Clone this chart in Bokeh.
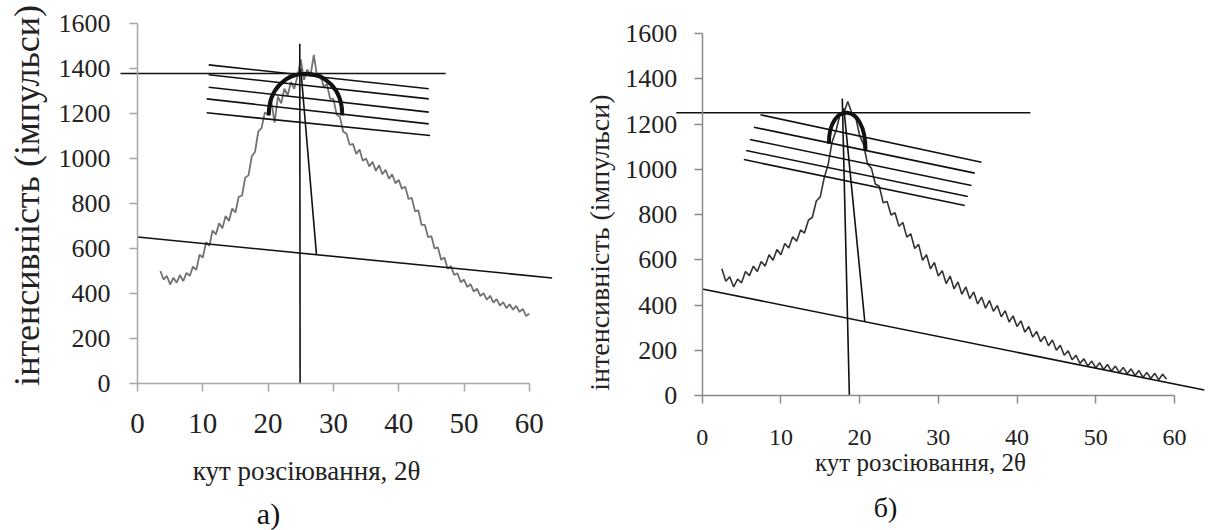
import math
from bokeh.plotting import figure
from bokeh.layouts import row
from bokeh.models import LinearAxis, FixedTicker, Label, Range1d
from bokeh.embed import file_html
from bokeh.resources import INLINE

# ---------------- panel а) ----------------
angle_a = [3.5, 4.0, 4.5, 5.0, 5.5, 6.0, 6.5, 7.0, 7.5, 8.0,
           8.5, 9.0, 9.5, 10.0, 10.5, 11.0, 11.5, 12.0, 12.5, 13.0,
           13.5, 14.0, 14.5, 15.0, 15.5, 16.0, 16.5, 17.0, 17.5, 18.0,
           18.5, 19.0, 19.5, 20.0, 20.5, 21.0, 21.5, 22.0, 22.5, 23.0,
           23.5, 24.0, 24.5, 25.0, 25.5, 26.0, 26.5, 27.0, 27.5, 28.0,
           28.5, 29.0, 29.5, 30.0, 30.5, 31.0, 31.5, 32.0, 32.5, 33.0,
           33.5, 34.0, 34.5, 35.0, 35.5, 36.0, 36.5, 37.0, 37.5, 38.0,
           38.5, 39.0, 39.5, 40.0, 40.5, 41.0, 41.5, 42.0, 42.5, 43.0,
           43.5, 44.0, 44.5, 45.0, 45.5, 46.0, 46.5, 47.0, 47.5, 48.0,
           48.5, 49.0, 49.5, 50.0, 50.5, 51.0, 51.5, 52.0, 52.5, 53.0,
           53.5, 54.0, 54.5, 55.0, 55.5, 56.0, 56.5, 57.0, 57.5, 58.0,
           58.5, 59.0, 59.5, 60.0]
intensity_a = [500, 462, 478, 440, 470, 448, 482, 455, 492, 478,
               520, 505, 572, 560, 628, 612, 680, 662, 712, 690,
               745, 722, 778, 760, 830, 835, 915, 925, 1010, 1030,
               1120, 1135, 1205, 1195, 1250, 1160, 1275, 1245, 1310, 1280,
               1340, 1310, 1365, 1440, 1350, 1395, 1370, 1460, 1365, 1375,
               1320, 1330, 1265, 1265, 1195, 1185, 1120, 1110, 1060, 1065,
               1020, 1040, 990, 1000, 965, 985, 945, 970, 930, 950,
               910, 930, 890, 905, 865, 875, 820, 825, 765, 770,
               705, 705, 650, 655, 600, 605, 550, 560, 510, 522,
               482, 490, 450, 462, 428, 442, 408, 422, 388, 402,
               372, 390, 360, 375, 346, 362, 335, 352, 328, 345,
               318, 332, 300, 310]

# construction lines of panel а): (x0, y0) -> (x1, y1)
lines_a_x0 = [-2.6, 0.0, 24.85, 25.0, 10.9, 10.9, 10.9, 10.6, 10.6]
lines_a_y0 = [1378, 651, 1510, 1400, 1416, 1372, 1317, 1265, 1203]
lines_a_x1 = [47.2, 63.5, 24.9, 27.4, 44.6, 44.6, 44.6, 44.6, 44.8]
lines_a_y1 = [1378, 469, 0, 575, 1310, 1265, 1206, 1154, 1102]
# thick cap over the peak (start, end, two control points)
cap_a = {"x0": 20.1, "y0": 1191, "x1": 31.35, "y1": 1191,
         "cx0": 20.0, "cy0": 1438, "cx1": 31.45, "cy1": 1438}

# ---------------- panel б) ----------------
angle_b = [2.5, 3.0, 3.5, 4.0, 4.5, 5.0, 5.5, 6.0, 6.5, 7.0,
           7.5, 8.0, 8.5, 9.0, 9.5, 10.0, 10.5, 11.0, 11.5, 12.0,
           12.5, 13.0, 13.5, 14.0, 14.5, 15.0, 15.5, 16.0, 16.5, 17.0,
           17.5, 18.0, 18.5, 19.0, 19.5, 20.0, 20.5, 21.0, 21.5, 22.0,
           22.5, 23.0, 23.5, 24.0, 24.5, 25.0, 25.5, 26.0, 26.5, 27.0,
           27.5, 28.0, 28.5, 29.0, 29.5, 30.0, 30.5, 31.0, 31.5, 32.0,
           32.5, 33.0, 33.5, 34.0, 34.5, 35.0, 35.5, 36.0, 36.5, 37.0,
           37.5, 38.0, 38.5, 39.0, 39.5, 40.0, 40.5, 41.0, 41.5, 42.0,
           42.5, 43.0, 43.5, 44.0, 44.5, 45.0, 45.5, 46.0, 46.5, 47.0,
           47.5, 48.0, 48.5, 49.0, 49.5, 50.0, 50.5, 51.0, 51.5, 52.0,
           52.5, 53.0, 53.5, 54.0, 54.5, 55.0, 55.5, 56.0, 56.5, 57.0,
           57.5, 58.0, 58.5, 59.0]
intensity_b = [560, 505, 525, 480, 515, 498, 548, 530, 572, 548,
               592, 572, 622, 598, 645, 622, 672, 652, 702, 682,
               732, 718, 775, 788, 860, 878, 962, 1020, 1120, 1170,
               1240, 1250, 1300, 1250, 1230, 1150, 1110, 1025, 1005, 935,
               925, 852, 858, 798, 808, 748, 765, 700, 715, 650,
               668, 598, 622, 560, 588, 528, 552, 495, 528, 472,
               502, 448, 480, 428, 458, 405, 435, 386, 420, 372,
               398, 348, 375, 325, 352, 305, 330, 280, 305, 258,
               283, 238, 262, 220, 245, 200, 222, 178, 198, 158,
               178, 142, 162, 130, 152, 122, 145, 115, 137, 108,
               130, 102, 124, 96, 118, 88, 110, 80, 102, 75,
               98, 70, 94, 72]

lines_b_x0 = [-3.3, 0.0, 17.8, 18.0, 7.40, 6.56, 6.05, 5.59, 5.29]
lines_b_y0 = [1250, 471, 1313, 1270, 1241, 1186, 1132, 1083, 1043]
lines_b_x1 = [41.7, 63.8, 18.7, 20.66, 35.49, 34.64, 34.22, 33.75, 33.37]
lines_b_y1 = [1250, 24, 0, 327, 1031, 983, 928, 880, 840]
cap_b = {"x0": 16.1, "y0": 1113, "x1": 20.75, "y1": 1085,
         "cx0": 16.05, "cy0": 1300, "cx1": 20.8, "cy1": 1300}

x_ticks = [0, 10, 20, 30, 40, 50, 60]
y_ticks = [0, 200, 400, 600, 800, 1000, 1200, 1400, 1600]
y_title = "інтенсивність (імпульси)"
x_title = "кут розсіювання, 2θ"
FONT = "'Liberation Serif', 'Times New Roman', serif"


def make_panel(xr, yr, size, axis_color, xt_size, yt_size,
               yt_standoff, xt_standoff):
    # the frame fills the whole figure so that no text is clipped;
    # the axes sit at x = 0 and y = 0 inside it
    p = figure(x_range=Range1d(*xr), y_range=Range1d(*yr),
               frame_width=size[0], frame_height=size[1],
               min_border=0, min_border_left=0, min_border_right=0,
               min_border_top=0, min_border_bottom=0,
               x_axis_location=None, y_axis_location=None,
               toolbar_location=None, output_backend="svg",
               outline_line_color=None, background_fill_color="white",
               border_fill_color="white")
    p.grid.visible = False
    xa = LinearAxis(fixed_location=0, bounds=(0, 60),
                    ticker=FixedTicker(ticks=x_ticks, minor_ticks=[]))
    ya = LinearAxis(fixed_location=0, bounds=(0, 1600),
                    ticker=FixedTicker(ticks=y_ticks, minor_ticks=[]))
    for ax, fs, so in ((xa, xt_size, xt_standoff), (ya, yt_size, yt_standoff)):
        ax.axis_line_color = axis_color
        ax.axis_line_width = 1.5
        ax.major_tick_line_color = axis_color
        ax.major_tick_line_width = 1.5
        ax.major_tick_in = 0
        ax.major_tick_out = 8
        ax.minor_tick_line_color = None
        ax.major_label_text_font = FONT
        ax.major_label_text_font_size = f"{fs}px"
        ax.major_label_text_color = "#222222"
        ax.major_label_standoff = so
    p.add_layout(xa, "below")
    p.add_layout(ya, "left")
    return p


def add_text(p, x, y, text, size, angle=0.0, color="#222222"):
    p.add_layout(Label(x=x, y=y, text=text, angle=angle, text_font=FONT,
                       text_font_size=f"{size}px", text_align="center",
                       text_baseline="middle", text_color=color))


# panel а): 0 -> px 137, 6.53 px per degree; 0 -> px 383, 0.225 px per count
pa = make_panel(xr=(-20.98, 67.84), yr=(-653.3, 1702.2), size=(580, 530),
                axis_color="#a8a8a8", xt_size=29, yt_size=26,
                yt_standoff=19, xt_standoff=22)
pa.line(angle_a, intensity_a, line_color="#727272", line_width=1.8)
pa.segment(lines_a_x0, lines_a_y0, lines_a_x1, lines_a_y1,
           line_color="#111111", line_width=1.6)
pa.bezier(**cap_a, line_color="#111111", line_width=4)
add_text(pa, -16.85, 836, y_title, 36, angle=math.pi / 2)
add_text(pa, 25.9, -387, x_title, 27)
add_text(pa, 20.06, -578, "а)", 30, color="#111111")

# panel б): 0 -> page px 701.7, 7.87 px per degree; 0 -> px 395, 0.2262 px per count
pb = make_panel(xr=(-15.46, 64.33), yr=(-596.8, 1746.2), size=(628, 530),
                axis_color="#8a8a8a", xt_size=24, yt_size=26,
                yt_standoff=17, xt_standoff=26)
pb.line(angle_b, intensity_b, line_color="#333333", line_width=1.6)
pb.segment(lines_b_x0, lines_b_y0, lines_b_x1, lines_b_y1,
           line_color="#111111", line_width=1.6)
pb.bezier(**cap_b, line_color="#111111", line_width=4)
add_text(pb, -13.05, 676, y_title, 28, angle=math.pi / 2)
add_text(pb, 27.74, -294, x_title, 25)
add_text(pb, 23.3, -495, "б)", 28, color="#111111")

layout = row(pa, pb, sizing_mode="fixed")
open("out.html", "w").write(file_html(layout, INLINE))
